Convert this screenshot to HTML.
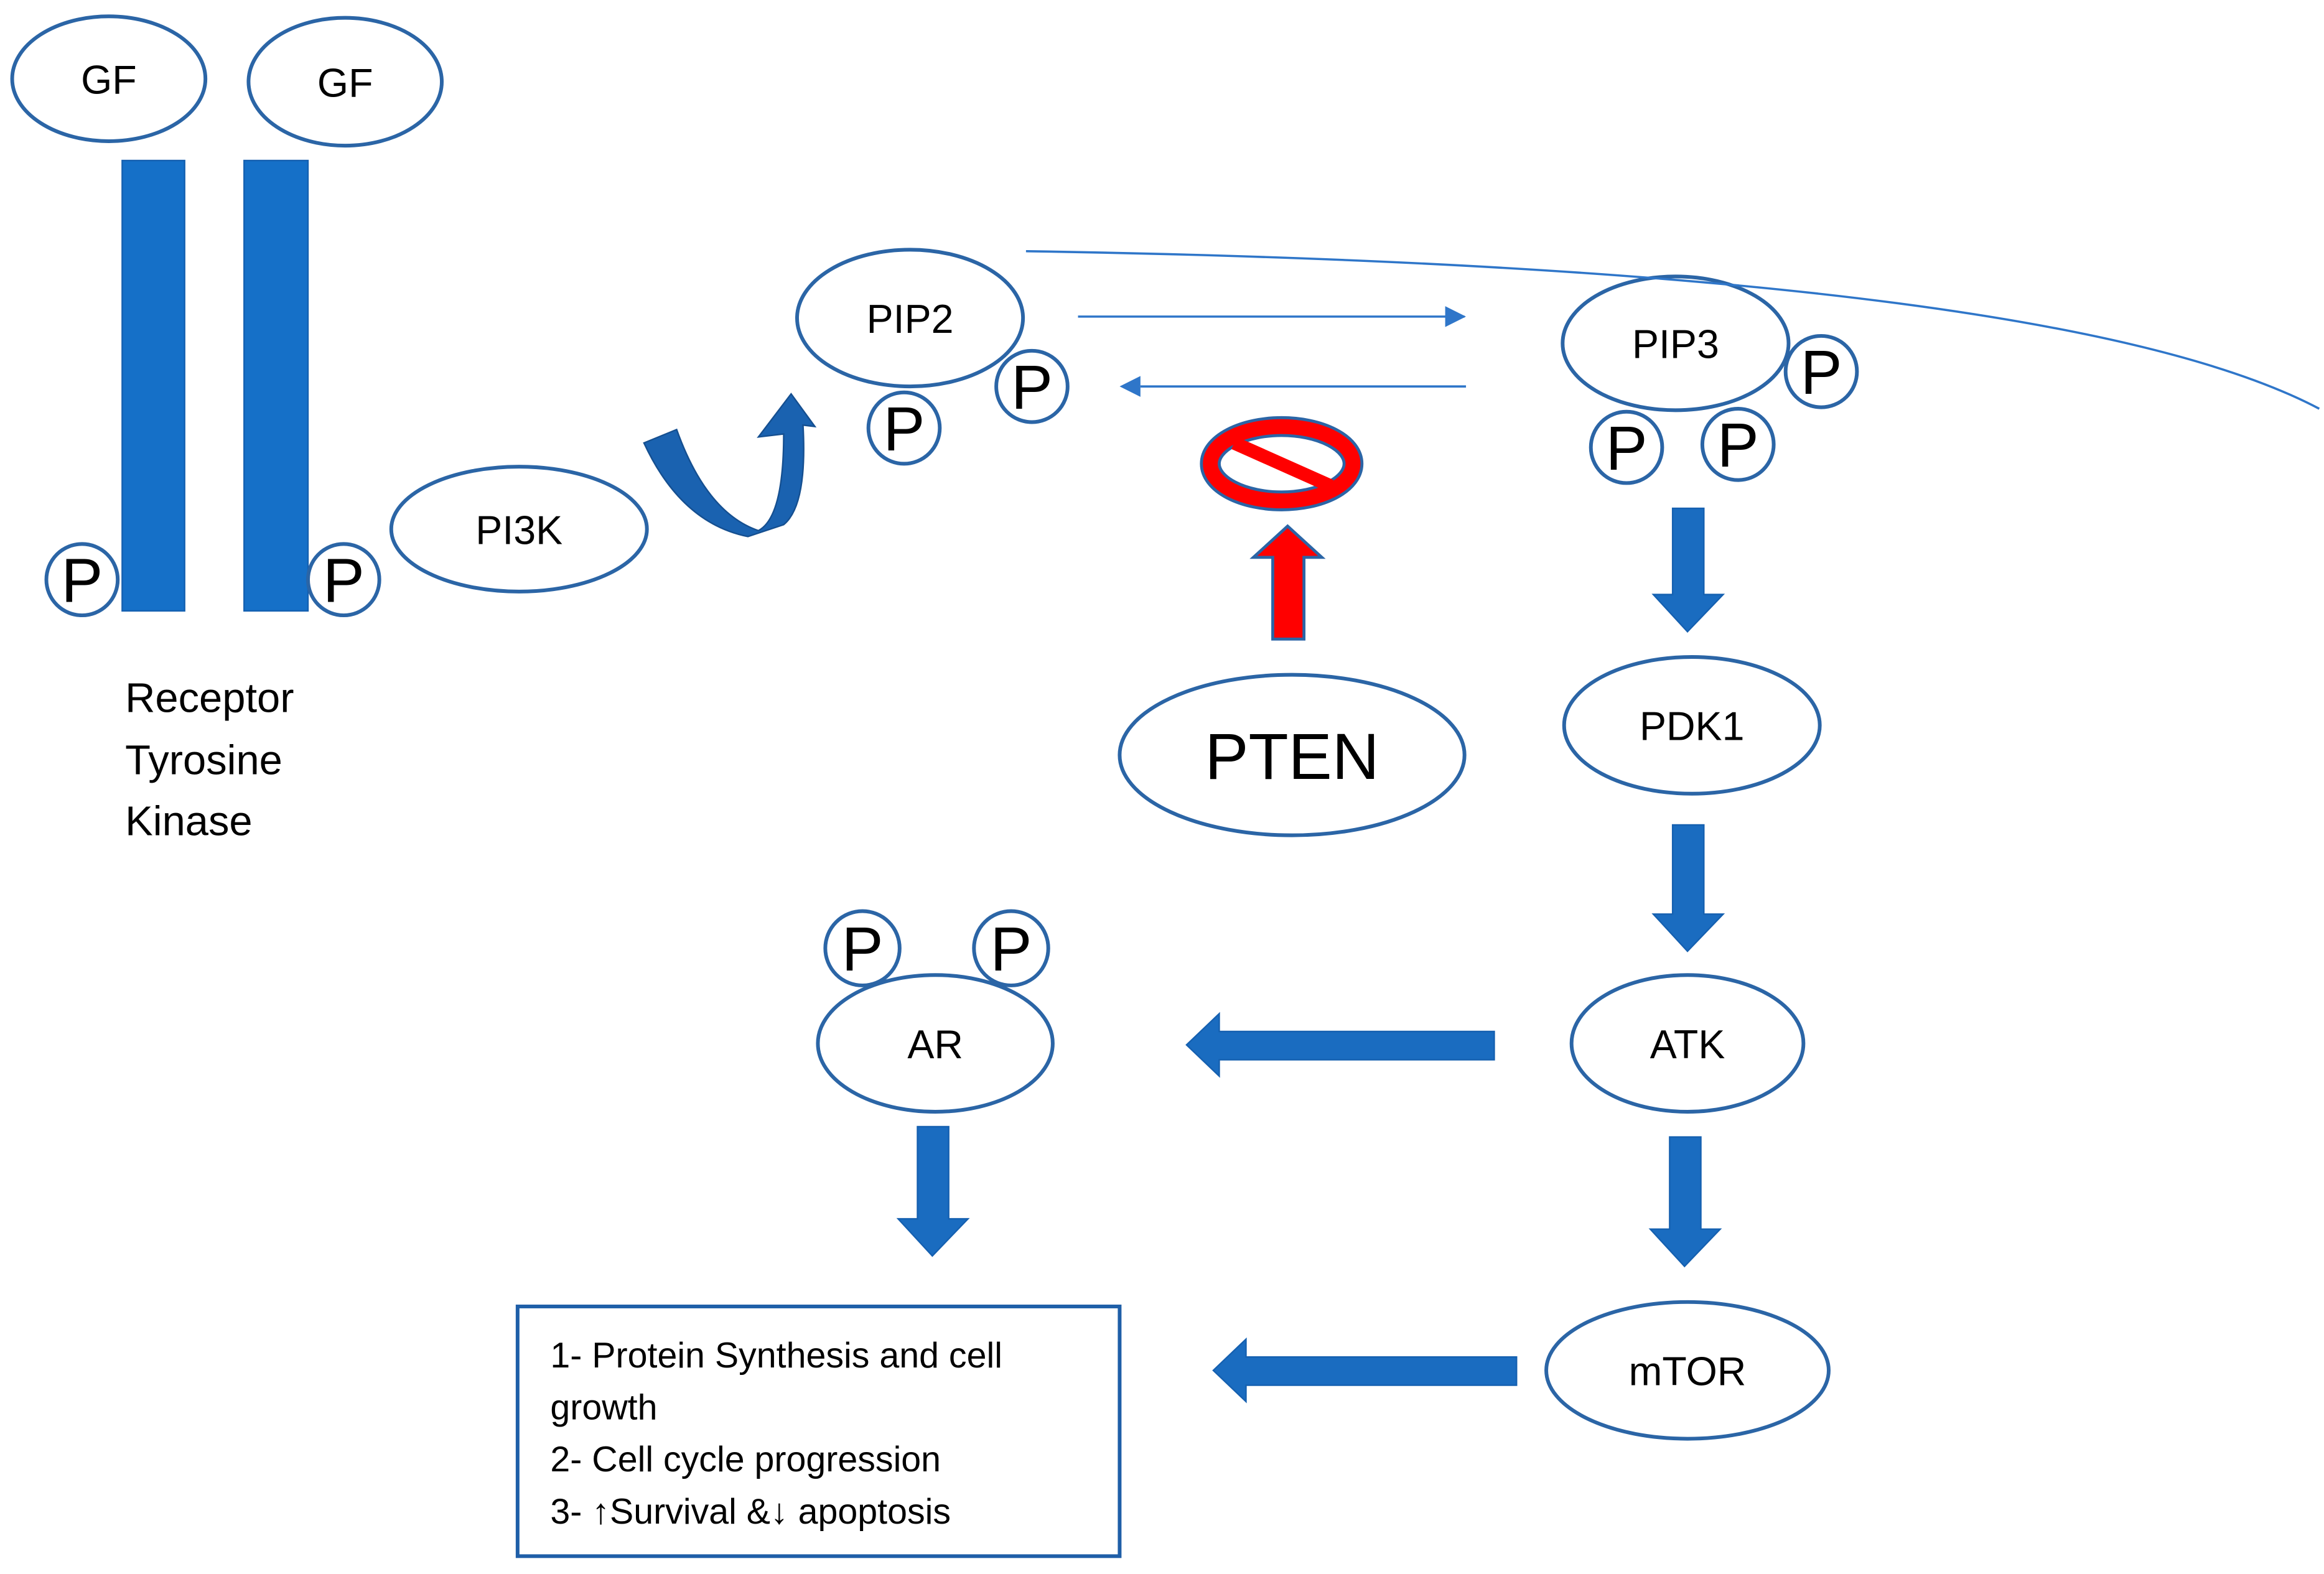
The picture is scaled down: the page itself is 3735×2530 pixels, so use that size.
<!DOCTYPE html>
<html><head><meta charset="utf-8"><style>html,body{margin:0;padding:0;background:#fff}svg{display:block}text{font-family:"Liberation Sans",sans-serif;fill:#000}</style></head><body>
<svg width="3735" height="2530" viewBox="0 0 1563 1059" xmlns="http://www.w3.org/2000/svg">
<g fill="none" stroke="#2b65a6" stroke-width="2.5">
<ellipse cx="73" cy="53" rx="65" ry="42"/>
<ellipse cx="232" cy="55" rx="65" ry="43"/>
<ellipse cx="349" cy="356" rx="86" ry="42"/>
<ellipse cx="612" cy="214" rx="76" ry="46"/>
<ellipse cx="1127" cy="231" rx="76" ry="45"/>
<ellipse cx="869" cy="508" rx="116" ry="54"/>
<ellipse cx="1138" cy="488" rx="86" ry="46"/>
<ellipse cx="1135" cy="702" rx="78" ry="46"/>
<ellipse cx="629" cy="702" rx="79" ry="46"/>
<ellipse cx="1135" cy="922" rx="95" ry="46"/>
</g>
<g fill="#1570c8" stroke="#1560b0" stroke-width="1">
<rect x="82" y="108" width="42" height="303"/>
<rect x="164" y="108" width="43" height="303"/>
</g>
<g fill="#fff" stroke="#2b65a6" stroke-width="2.5">
<circle cx="55" cy="390" r="24"/><circle cx="231" cy="390" r="24"/>
<circle cx="608" cy="288" r="24"/><circle cx="694" cy="260" r="24"/>
<circle cx="1225" cy="250" r="24"/><circle cx="1094" cy="301" r="24"/><circle cx="1169" cy="299" r="24"/>
<circle cx="580" cy="638" r="25"/><circle cx="680" cy="638" r="25"/>
</g>
<g font-size="42" text-anchor="middle">
<text x="55" y="405">P</text><text x="231" y="405">P</text>
<text x="608" y="303">P</text><text x="694" y="275">P</text>
<text x="1225" y="265">P</text><text x="1094" y="316">P</text><text x="1169" y="314">P</text>
<text x="580" y="653">P</text><text x="680" y="653">P</text>
</g>
<g font-size="27" text-anchor="middle">
<text x="73" y="63">GF</text><text x="232" y="65">GF</text>
<text x="349" y="366">PI3K</text><text x="612" y="224">PIP2</text>
<text x="1127" y="241">PIP3</text><text x="1138" y="498">PDK1</text>
<text x="1135" y="712">ATK</text><text x="629" y="712">AR</text>
<text x="1135" y="932">mTOR</text>
<text x="869" y="524" font-size="44">PTEN</text>
</g>
<g font-size="28"><text x="84" y="479">Receptor</text><text x="84" y="521">Tyrosine</text><text x="84" y="562">Kinase</text></g>
<path d="M433,298 L455,289 Q475,345 510,357 Q527,348 527,292 L510,294 L532,265 L548,287 L540,286 Q543,340 527,353 L503,361 Q458,352 433,298 z" fill="#1a62b0" stroke="#154f90" stroke-width="1"/>
<line x1="725" y1="213" x2="985" y2="213" stroke="#2f76c9" stroke-width="1.5"/>
<path d="M972,206 L986,213 L972,220 z" fill="#2f76c9"/>
<line x1="767" y1="260" x2="986" y2="260" stroke="#2f76c9" stroke-width="1.5"/>
<path d="M767,253 L753,260 L767,267 z" fill="#2f76c9"/>
<path d="M690,169 Q1380,180 1560,275" fill="none" stroke="#2f76c9" stroke-width="1.5"/>
<ellipse cx="862" cy="312" rx="48" ry="25" fill="none" stroke="#2b65a6" stroke-width="14"/>
<ellipse cx="862" cy="312" rx="48" ry="25" fill="none" stroke="#f00" stroke-width="10"/>
<line x1="830" y1="298" x2="895" y2="327" stroke="#f00" stroke-width="9"/>
<path d="M856,430 L856,375 L843,375 L866,354 L889,375 L877,375 L877,430 z" fill="#f00" stroke="#2b65a6" stroke-width="2"/>
<g fill="#1a6cc0" stroke="#1560b0" stroke-width="1">
<path d="M1125,342 L1146,342 L1146,400 L1159,400 L1135,425 L1112,400 L1125,400 z"/>
<path d="M1125,555 L1146,555 L1146,615 L1159,615 L1135,640 L1112,615 L1125,615 z"/>
<path d="M1123,765 L1144,765 L1144,827 L1157,827 L1133,852 L1110,827 L1123,827 z"/>
<path d="M617,758 L638,758 L638,820 L651,820 L627,845 L604,820 L617,820 z"/>
<path d="M1005,694 L1005,713 L820,713 L820,724 L798,703 L820,682 L820,694 z"/>
<path d="M1020,913 L1020,932 L838,932 L838,943 L816,922 L838,901 L838,913 z"/>
</g>
<rect x="348" y="879" width="405" height="168" fill="none" stroke="#1f5fa8" stroke-width="2.5"/>
<g font-size="24"><text x="370" y="920">1- Protein Synthesis and cell</text><text x="370" y="955">growth</text><text x="370" y="990">2- Cell cycle progression</text><text x="370" y="1025">3- ↑Survival &amp;↓ apoptosis</text></g>
</svg>
</body></html>
